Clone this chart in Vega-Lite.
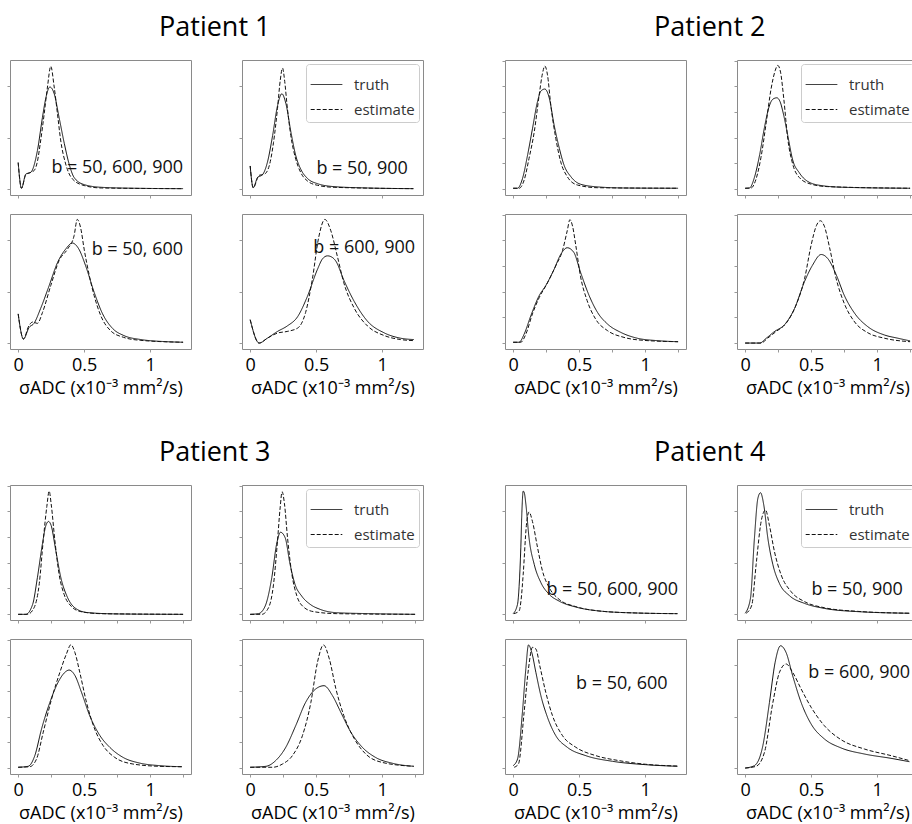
{
"$schema": "https://vega.github.io/schema/vega-lite/v6.json",
"padding": {"left": 6, "top": 13, "right": 0, "bottom": 0},
"background": "white",
"config": {
  "font": "Open Sans",
  "view": {"stroke": "#8a8a8a", "strokeWidth": 1},
  "title": {"fontSize": 27, "fontWeight": "normal", "font": "Open Sans", "color": "#000", "offset": 18, "anchor": "middle"},
  "axis": {"domain": false, "grid": false, "tickSize": 3, "tickColor": "#999", "labelFont": "Open Sans", "labelFontSize": 18, "labelColor": "#000", "labelPadding": 4, "titleFont": "Open Sans", "titleFontSize": 18, "titleFontWeight": "normal", "titleColor": "#000", "titlePadding": 5},
  "legend": {"orient": "top-right", "offset": 4, "title": null, "labelFont": "Open Sans", "labelFontSize": 15, "labelColor": "#333", "symbolType": "stroke", "symbolSize": 1000, "symbolStrokeWidth": 2, "symbolStrokeColor": "#111", "padding": 4, "rowPadding": -4, "labelOffset": 11, "strokeColor": "#ccc", "fillColor": "white", "cornerRadius": 3},
  "line": {"interpolate": "monotone", "strokeWidth": 1, "color": "#111"},
  "text": {"font": "Open Sans", "fontSize": 18, "align": "right", "baseline": "middle", "color": "#111"}
},
"datasets": {"c": [
{"k":"1a","s":"truth","x":0,"y":0.24},{"k":"1a","s":"truth","x":0.025,"y":0.05},{"k":"1a","s":"truth","x":0.058,"y":0.155},{"k":"1a","s":"truth","x":0.096,"y":0.168},{"k":"1a","s":"truth","x":0.146,"y":0.33},{"k":"1a","s":"truth","x":0.184,"y":0.575},{"k":"1a","s":"truth","x":0.21,"y":0.72},{"k":"1a","s":"truth","x":0.24,"y":0.8},{"k":"1a","s":"truth","x":0.273,"y":0.75},{"k":"1a","s":"truth","x":0.31,"y":0.575},{"k":"1a","s":"truth","x":0.35,"y":0.38},{"k":"1a","s":"truth","x":0.386,"y":0.23},{"k":"1a","s":"truth","x":0.424,"y":0.13},{"k":"1a","s":"truth","x":0.5,"y":0.077},{"k":"1a","s":"truth","x":0.63,"y":0.057},{"k":"1a","s":"truth","x":0.88,"y":0.05},{"k":"1a","s":"truth","x":1.25,"y":0.047},
{"k":"1a","s":"estimate","x":0,"y":0.24},{"k":"1a","s":"estimate","x":0.025,"y":0.05},{"k":"1a","s":"estimate","x":0.058,"y":0.15},{"k":"1a","s":"estimate","x":0.1,"y":0.17},{"k":"1a","s":"estimate","x":0.12,"y":0.18},{"k":"1a","s":"estimate","x":0.146,"y":0.25},{"k":"1a","s":"estimate","x":0.17,"y":0.4},{"k":"1a","s":"estimate","x":0.197,"y":0.6},{"k":"1a","s":"estimate","x":0.222,"y":0.8},{"k":"1a","s":"estimate","x":0.247,"y":0.953},{"k":"1a","s":"estimate","x":0.273,"y":0.8},{"k":"1a","s":"estimate","x":0.298,"y":0.6},{"k":"1a","s":"estimate","x":0.323,"y":0.4},{"k":"1a","s":"estimate","x":0.36,"y":0.23},{"k":"1a","s":"estimate","x":0.41,"y":0.12},{"k":"1a","s":"estimate","x":0.5,"y":0.07},{"k":"1a","s":"estimate","x":0.63,"y":0.052},{"k":"1a","s":"estimate","x":1.25,"y":0.047},
{"k":"1b","s":"truth","x":0,"y":0.215},{"k":"1b","s":"truth","x":0.023,"y":0.054},{"k":"1b","s":"truth","x":0.056,"y":0.13},{"k":"1b","s":"truth","x":0.093,"y":0.15},{"k":"1b","s":"truth","x":0.13,"y":0.24},{"k":"1b","s":"truth","x":0.17,"y":0.44},{"k":"1b","s":"truth","x":0.207,"y":0.66},{"k":"1b","s":"truth","x":0.24,"y":0.75},{"k":"1b","s":"truth","x":0.27,"y":0.68},{"k":"1b","s":"truth","x":0.31,"y":0.46},{"k":"1b","s":"truth","x":0.346,"y":0.29},{"k":"1b","s":"truth","x":0.384,"y":0.19},{"k":"1b","s":"truth","x":0.434,"y":0.123},{"k":"1b","s":"truth","x":0.51,"y":0.084},{"k":"1b","s":"truth","x":0.636,"y":0.062},{"k":"1b","s":"truth","x":0.89,"y":0.052},{"k":"1b","s":"truth","x":1.237,"y":0.047},
{"k":"1b","s":"estimate","x":0,"y":0.215},{"k":"1b","s":"estimate","x":0.023,"y":0.054},{"k":"1b","s":"estimate","x":0.068,"y":0.146},{"k":"1b","s":"estimate","x":0.106,"y":0.153},{"k":"1b","s":"estimate","x":0.144,"y":0.215},{"k":"1b","s":"estimate","x":0.177,"y":0.39},{"k":"1b","s":"estimate","x":0.207,"y":0.64},{"k":"1b","s":"estimate","x":0.228,"y":0.85},{"k":"1b","s":"estimate","x":0.245,"y":0.94},{"k":"1b","s":"estimate","x":0.262,"y":0.84},{"k":"1b","s":"estimate","x":0.278,"y":0.68},{"k":"1b","s":"estimate","x":0.308,"y":0.44},{"k":"1b","s":"estimate","x":0.346,"y":0.264},{"k":"1b","s":"estimate","x":0.384,"y":0.165},{"k":"1b","s":"estimate","x":0.434,"y":0.104},{"k":"1b","s":"estimate","x":0.51,"y":0.072},{"k":"1b","s":"estimate","x":0.636,"y":0.057},{"k":"1b","s":"estimate","x":1.237,"y":0.047},
{"k":"1c","s":"truth","x":0,"y":0.26},{"k":"1c","s":"truth","x":0.04,"y":0.074},{"k":"1c","s":"truth","x":0.083,"y":0.16},{"k":"1c","s":"truth","x":0.12,"y":0.19},{"k":"1c","s":"truth","x":0.17,"y":0.3},{"k":"1c","s":"truth","x":0.235,"y":0.47},{"k":"1c","s":"truth","x":0.298,"y":0.64},{"k":"1c","s":"truth","x":0.36,"y":0.74},{"k":"1c","s":"truth","x":0.41,"y":0.785},{"k":"1c","s":"truth","x":0.46,"y":0.74},{"k":"1c","s":"truth","x":0.51,"y":0.62},{"k":"1c","s":"truth","x":0.576,"y":0.42},{"k":"1c","s":"truth","x":0.64,"y":0.26},{"k":"1c","s":"truth","x":0.715,"y":0.153},{"k":"1c","s":"truth","x":0.8,"y":0.1},{"k":"1c","s":"truth","x":0.93,"y":0.07},{"k":"1c","s":"truth","x":1.13,"y":0.054},{"k":"1c","s":"truth","x":1.25,"y":0.05},
{"k":"1c","s":"estimate","x":0,"y":0.26},{"k":"1c","s":"estimate","x":0.04,"y":0.074},{"k":"1c","s":"estimate","x":0.08,"y":0.17},{"k":"1c","s":"estimate","x":0.11,"y":0.2},{"k":"1c","s":"estimate","x":0.146,"y":0.19},{"k":"1c","s":"estimate","x":0.184,"y":0.27},{"k":"1c","s":"estimate","x":0.247,"y":0.47},{"k":"1c","s":"estimate","x":0.31,"y":0.655},{"k":"1c","s":"estimate","x":0.374,"y":0.74},{"k":"1c","s":"estimate","x":0.424,"y":0.84},{"k":"1c","s":"estimate","x":0.448,"y":0.96},{"k":"1c","s":"estimate","x":0.475,"y":0.89},{"k":"1c","s":"estimate","x":0.5,"y":0.74},{"k":"1c","s":"estimate","x":0.54,"y":0.54},{"k":"1c","s":"estimate","x":0.576,"y":0.395},{"k":"1c","s":"estimate","x":0.626,"y":0.247},{"k":"1c","s":"estimate","x":0.7,"y":0.136},{"k":"1c","s":"estimate","x":0.8,"y":0.086},{"k":"1c","s":"estimate","x":0.93,"y":0.064},{"k":"1c","s":"estimate","x":1.25,"y":0.05},
{"k":"1d","s":"truth","x":0,"y":0.217},{"k":"1d","s":"truth","x":0.068,"y":0.044},{"k":"1d","s":"truth","x":0.13,"y":0.08},{"k":"1d","s":"truth","x":0.207,"y":0.13},{"k":"1d","s":"truth","x":0.28,"y":0.17},{"k":"1d","s":"truth","x":0.36,"y":0.24},{"k":"1d","s":"truth","x":0.434,"y":0.39},{"k":"1d","s":"truth","x":0.51,"y":0.59},{"k":"1d","s":"truth","x":0.55,"y":0.67},{"k":"1d","s":"truth","x":0.586,"y":0.69},{"k":"1d","s":"truth","x":0.62,"y":0.68},{"k":"1d","s":"truth","x":0.65,"y":0.65},{"k":"1d","s":"truth","x":0.71,"y":0.51},{"k":"1d","s":"truth","x":0.79,"y":0.35},{"k":"1d","s":"truth","x":0.89,"y":0.205},{"k":"1d","s":"truth","x":1.015,"y":0.12},{"k":"1d","s":"truth","x":1.14,"y":0.08},{"k":"1d","s":"truth","x":1.24,"y":0.07},
{"k":"1d","s":"estimate","x":0,"y":0.217},{"k":"1d","s":"estimate","x":0.068,"y":0.044},{"k":"1d","s":"estimate","x":0.13,"y":0.08},{"k":"1d","s":"estimate","x":0.207,"y":0.118},{"k":"1d","s":"estimate","x":0.28,"y":0.13},{"k":"1d","s":"estimate","x":0.36,"y":0.155},{"k":"1d","s":"estimate","x":0.42,"y":0.27},{"k":"1d","s":"estimate","x":0.47,"y":0.51},{"k":"1d","s":"estimate","x":0.52,"y":0.83},{"k":"1d","s":"estimate","x":0.566,"y":0.96},{"k":"1d","s":"estimate","x":0.61,"y":0.88},{"k":"1d","s":"estimate","x":0.66,"y":0.69},{"k":"1d","s":"estimate","x":0.71,"y":0.49},{"k":"1d","s":"estimate","x":0.79,"y":0.3},{"k":"1d","s":"estimate","x":0.89,"y":0.17},{"k":"1d","s":"estimate","x":1.015,"y":0.1},{"k":"1d","s":"estimate","x":1.14,"y":0.07},{"k":"1d","s":"estimate","x":1.24,"y":0.062},
{"k":"2a","s":"truth","x":0,"y":0.05},{"k":"2a","s":"truth","x":0.033,"y":0.05},{"k":"2a","s":"truth","x":0.07,"y":0.12},{"k":"2a","s":"truth","x":0.11,"y":0.3},{"k":"2a","s":"truth","x":0.146,"y":0.49},{"k":"2a","s":"truth","x":0.184,"y":0.69},{"k":"2a","s":"truth","x":0.21,"y":0.77},{"k":"2a","s":"truth","x":0.24,"y":0.785},{"k":"2a","s":"truth","x":0.273,"y":0.72},{"k":"2a","s":"truth","x":0.31,"y":0.52},{"k":"2a","s":"truth","x":0.35,"y":0.345},{"k":"2a","s":"truth","x":0.386,"y":0.22},{"k":"2a","s":"truth","x":0.437,"y":0.136},{"k":"2a","s":"truth","x":0.51,"y":0.08},{"k":"2a","s":"truth","x":0.64,"y":0.06},{"k":"2a","s":"truth","x":0.84,"y":0.052},{"k":"2a","s":"truth","x":1.25,"y":0.05},
{"k":"2a","s":"estimate","x":0,"y":0.05},{"k":"2a","s":"estimate","x":0.045,"y":0.05},{"k":"2a","s":"estimate","x":0.083,"y":0.11},{"k":"2a","s":"estimate","x":0.12,"y":0.27},{"k":"2a","s":"estimate","x":0.16,"y":0.47},{"k":"2a","s":"estimate","x":0.197,"y":0.74},{"k":"2a","s":"estimate","x":0.222,"y":0.9},{"k":"2a","s":"estimate","x":0.24,"y":0.955},{"k":"2a","s":"estimate","x":0.26,"y":0.89},{"k":"2a","s":"estimate","x":0.285,"y":0.667},{"k":"2a","s":"estimate","x":0.323,"y":0.42},{"k":"2a","s":"estimate","x":0.36,"y":0.247},{"k":"2a","s":"estimate","x":0.41,"y":0.136},{"k":"2a","s":"estimate","x":0.487,"y":0.074},{"k":"2a","s":"estimate","x":0.64,"y":0.054},{"k":"2a","s":"estimate","x":1.25,"y":0.05},
{"k":"2b","s":"truth","x":0,"y":0.05},{"k":"2b","s":"truth","x":0.033,"y":0.052},{"k":"2b","s":"truth","x":0.07,"y":0.13},{"k":"2b","s":"truth","x":0.11,"y":0.3},{"k":"2b","s":"truth","x":0.146,"y":0.5},{"k":"2b","s":"truth","x":0.18,"y":0.65},{"k":"2b","s":"truth","x":0.21,"y":0.71},{"k":"2b","s":"truth","x":0.24,"y":0.72},{"k":"2b","s":"truth","x":0.265,"y":0.69},{"k":"2b","s":"truth","x":0.29,"y":0.6},{"k":"2b","s":"truth","x":0.323,"y":0.44},{"k":"2b","s":"truth","x":0.36,"y":0.26},{"k":"2b","s":"truth","x":0.41,"y":0.165},{"k":"2b","s":"truth","x":0.475,"y":0.1},{"k":"2b","s":"truth","x":0.576,"y":0.07},{"k":"2b","s":"truth","x":0.75,"y":0.057},{"k":"2b","s":"truth","x":1.25,"y":0.05},
{"k":"2b","s":"estimate","x":0,"y":0.05},{"k":"2b","s":"estimate","x":0.045,"y":0.052},{"k":"2b","s":"estimate","x":0.083,"y":0.12},{"k":"2b","s":"estimate","x":0.12,"y":0.28},{"k":"2b","s":"estimate","x":0.16,"y":0.54},{"k":"2b","s":"estimate","x":0.197,"y":0.79},{"k":"2b","s":"estimate","x":0.227,"y":0.92},{"k":"2b","s":"estimate","x":0.247,"y":0.96},{"k":"2b","s":"estimate","x":0.268,"y":0.91},{"k":"2b","s":"estimate","x":0.293,"y":0.71},{"k":"2b","s":"estimate","x":0.323,"y":0.415},{"k":"2b","s":"estimate","x":0.36,"y":0.23},{"k":"2b","s":"estimate","x":0.41,"y":0.13},{"k":"2b","s":"estimate","x":0.5,"y":0.08},{"k":"2b","s":"estimate","x":0.626,"y":0.062},{"k":"2b","s":"estimate","x":1.25,"y":0.05},
{"k":"2c","s":"truth","x":0,"y":0.05},{"k":"2c","s":"truth","x":0.045,"y":0.05},{"k":"2c","s":"truth","x":0.083,"y":0.11},{"k":"2c","s":"truth","x":0.134,"y":0.247},{"k":"2c","s":"truth","x":0.197,"y":0.395},{"k":"2c","s":"truth","x":0.247,"y":0.47},{"k":"2c","s":"truth","x":0.31,"y":0.59},{"k":"2c","s":"truth","x":0.36,"y":0.7},{"k":"2c","s":"truth","x":0.41,"y":0.75},{"k":"2c","s":"truth","x":0.46,"y":0.715},{"k":"2c","s":"truth","x":0.51,"y":0.57},{"k":"2c","s":"truth","x":0.576,"y":0.395},{"k":"2c","s":"truth","x":0.64,"y":0.27},{"k":"2c","s":"truth","x":0.715,"y":0.185},{"k":"2c","s":"truth","x":0.816,"y":0.123},{"k":"2c","s":"truth","x":0.94,"y":0.08},{"k":"2c","s":"truth","x":1.09,"y":0.062},{"k":"2c","s":"truth","x":1.25,"y":0.054},
{"k":"2c","s":"estimate","x":0,"y":0.05},{"k":"2c","s":"estimate","x":0.058,"y":0.05},{"k":"2c","s":"estimate","x":0.096,"y":0.11},{"k":"2c","s":"estimate","x":0.146,"y":0.26},{"k":"2c","s":"estimate","x":0.197,"y":0.38},{"k":"2c","s":"estimate","x":0.26,"y":0.49},{"k":"2c","s":"estimate","x":0.323,"y":0.617},{"k":"2c","s":"estimate","x":0.374,"y":0.73},{"k":"2c","s":"estimate","x":0.41,"y":0.877},{"k":"2c","s":"estimate","x":0.43,"y":0.958},{"k":"2c","s":"estimate","x":0.45,"y":0.91},{"k":"2c","s":"estimate","x":0.475,"y":0.765},{"k":"2c","s":"estimate","x":0.51,"y":0.54},{"k":"2c","s":"estimate","x":0.56,"y":0.36},{"k":"2c","s":"estimate","x":0.626,"y":0.22},{"k":"2c","s":"estimate","x":0.715,"y":0.136},{"k":"2c","s":"estimate","x":0.84,"y":0.086},{"k":"2c","s":"estimate","x":0.99,"y":0.064},{"k":"2c","s":"estimate","x":1.25,"y":0.054},
{"k":"2d","s":"truth","x":0,"y":0.044},{"k":"2d","s":"truth","x":0.11,"y":0.044},{"k":"2d","s":"truth","x":0.16,"y":0.08},{"k":"2d","s":"truth","x":0.22,"y":0.128},{"k":"2d","s":"truth","x":0.298,"y":0.18},{"k":"2d","s":"truth","x":0.374,"y":0.3},{"k":"2d","s":"truth","x":0.45,"y":0.5},{"k":"2d","s":"truth","x":0.51,"y":0.62},{"k":"2d","s":"truth","x":0.576,"y":0.7},{"k":"2d","s":"truth","x":0.626,"y":0.67},{"k":"2d","s":"truth","x":0.69,"y":0.55},{"k":"2d","s":"truth","x":0.75,"y":0.4},{"k":"2d","s":"truth","x":0.83,"y":0.264},{"k":"2d","s":"truth","x":0.93,"y":0.165},{"k":"2d","s":"truth","x":1.055,"y":0.104},{"k":"2d","s":"truth","x":1.157,"y":0.08},{"k":"2d","s":"truth","x":1.25,"y":0.06},
{"k":"2d","s":"estimate","x":0,"y":0.044},{"k":"2d","s":"estimate","x":0.12,"y":0.044},{"k":"2d","s":"estimate","x":0.17,"y":0.08},{"k":"2d","s":"estimate","x":0.235,"y":0.13},{"k":"2d","s":"estimate","x":0.31,"y":0.19},{"k":"2d","s":"estimate","x":0.386,"y":0.326},{"k":"2d","s":"estimate","x":0.45,"y":0.52},{"k":"2d","s":"estimate","x":0.5,"y":0.77},{"k":"2d","s":"estimate","x":0.54,"y":0.914},{"k":"2d","s":"estimate","x":0.57,"y":0.95},{"k":"2d","s":"estimate","x":0.6,"y":0.91},{"k":"2d","s":"estimate","x":0.64,"y":0.75},{"k":"2d","s":"estimate","x":0.69,"y":0.52},{"k":"2d","s":"estimate","x":0.75,"y":0.34},{"k":"2d","s":"estimate","x":0.83,"y":0.2},{"k":"2d","s":"estimate","x":0.93,"y":0.12},{"k":"2d","s":"estimate","x":1.055,"y":0.08},{"k":"2d","s":"estimate","x":1.25,"y":0.054},
{"k":"3a","s":"truth","x":0,"y":0.042},{"k":"3a","s":"truth","x":0.058,"y":0.042},{"k":"3a","s":"truth","x":0.11,"y":0.117},{"k":"3a","s":"truth","x":0.146,"y":0.316},{"k":"3a","s":"truth","x":0.184,"y":0.565},{"k":"3a","s":"truth","x":0.21,"y":0.7},{"k":"3a","s":"truth","x":0.23,"y":0.73},{"k":"3a","s":"truth","x":0.25,"y":0.7},{"k":"3a","s":"truth","x":0.285,"y":0.515},{"k":"3a","s":"truth","x":0.323,"y":0.316},{"k":"3a","s":"truth","x":0.374,"y":0.167},{"k":"3a","s":"truth","x":0.437,"y":0.085},{"k":"3a","s":"truth","x":0.525,"y":0.055},{"k":"3a","s":"truth","x":0.75,"y":0.045},{"k":"3a","s":"truth","x":1.25,"y":0.042},
{"k":"3a","s":"estimate","x":0,"y":0.042},{"k":"3a","s":"estimate","x":0.07,"y":0.042},{"k":"3a","s":"estimate","x":0.12,"y":0.09},{"k":"3a","s":"estimate","x":0.16,"y":0.27},{"k":"3a","s":"estimate","x":0.19,"y":0.59},{"k":"3a","s":"estimate","x":0.217,"y":0.84},{"k":"3a","s":"estimate","x":0.235,"y":0.955},{"k":"3a","s":"estimate","x":0.25,"y":0.86},{"k":"3a","s":"estimate","x":0.278,"y":0.59},{"k":"3a","s":"estimate","x":0.31,"y":0.34},{"k":"3a","s":"estimate","x":0.348,"y":0.19},{"k":"3a","s":"estimate","x":0.4,"y":0.104},{"k":"3a","s":"estimate","x":0.475,"y":0.062},{"k":"3a","s":"estimate","x":0.626,"y":0.047},{"k":"3a","s":"estimate","x":1.25,"y":0.042},
{"k":"3b","s":"truth","x":0,"y":0.042},{"k":"3b","s":"truth","x":0.063,"y":0.047},{"k":"3b","s":"truth","x":0.114,"y":0.104},{"k":"3b","s":"truth","x":0.164,"y":0.315},{"k":"3b","s":"truth","x":0.2,"y":0.56},{"k":"3b","s":"truth","x":0.23,"y":0.65},{"k":"3b","s":"truth","x":0.265,"y":0.61},{"k":"3b","s":"truth","x":0.303,"y":0.41},{"k":"3b","s":"truth","x":0.34,"y":0.264},{"k":"3b","s":"truth","x":0.39,"y":0.178},{"k":"3b","s":"truth","x":0.455,"y":0.116},{"k":"3b","s":"truth","x":0.53,"y":0.079},{"k":"3b","s":"truth","x":0.657,"y":0.054},{"k":"3b","s":"truth","x":0.91,"y":0.047},{"k":"3b","s":"truth","x":1.25,"y":0.042},
{"k":"3b","s":"estimate","x":0,"y":0.042},{"k":"3b","s":"estimate","x":0.088,"y":0.042},{"k":"3b","s":"estimate","x":0.139,"y":0.091},{"k":"3b","s":"estimate","x":0.177,"y":0.264},{"k":"3b","s":"estimate","x":0.207,"y":0.585},{"k":"3b","s":"estimate","x":0.227,"y":0.83},{"k":"3b","s":"estimate","x":0.242,"y":0.95},{"k":"3b","s":"estimate","x":0.26,"y":0.86},{"k":"3b","s":"estimate","x":0.283,"y":0.61},{"k":"3b","s":"estimate","x":0.316,"y":0.34},{"k":"3b","s":"estimate","x":0.354,"y":0.178},{"k":"3b","s":"estimate","x":0.404,"y":0.097},{"k":"3b","s":"estimate","x":0.48,"y":0.062},{"k":"3b","s":"estimate","x":0.657,"y":0.047},{"k":"3b","s":"estimate","x":1.25,"y":0.042},
{"k":"3c","s":"truth","x":0,"y":0.05},{"k":"3c","s":"truth","x":0.076,"y":0.057},{"k":"3c","s":"truth","x":0.126,"y":0.136},{"k":"3c","s":"truth","x":0.177,"y":0.333},{"k":"3c","s":"truth","x":0.24,"y":0.53},{"k":"3c","s":"truth","x":0.303,"y":0.68},{"k":"3c","s":"truth","x":0.354,"y":0.753},{"k":"3c","s":"truth","x":0.386,"y":0.77},{"k":"3c","s":"truth","x":0.43,"y":0.73},{"k":"3c","s":"truth","x":0.48,"y":0.605},{"k":"3c","s":"truth","x":0.543,"y":0.43},{"k":"3c","s":"truth","x":0.62,"y":0.284},{"k":"3c","s":"truth","x":0.694,"y":0.198},{"k":"3c","s":"truth","x":0.795,"y":0.123},{"k":"3c","s":"truth","x":0.92,"y":0.081},{"k":"3c","s":"truth","x":1.07,"y":0.062},{"k":"3c","s":"truth","x":1.24,"y":0.054},
{"k":"3c","s":"estimate","x":0,"y":0.05},{"k":"3c","s":"estimate","x":0.088,"y":0.054},{"k":"3c","s":"estimate","x":0.139,"y":0.111},{"k":"3c","s":"estimate","x":0.19,"y":0.31},{"k":"3c","s":"estimate","x":0.253,"y":0.555},{"k":"3c","s":"estimate","x":0.316,"y":0.753},{"k":"3c","s":"estimate","x":0.366,"y":0.89},{"k":"3c","s":"estimate","x":0.4,"y":0.958},{"k":"3c","s":"estimate","x":0.43,"y":0.9},{"k":"3c","s":"estimate","x":0.467,"y":0.753},{"k":"3c","s":"estimate","x":0.518,"y":0.53},{"k":"3c","s":"estimate","x":0.58,"y":0.333},{"k":"3c","s":"estimate","x":0.644,"y":0.21},{"k":"3c","s":"estimate","x":0.732,"y":0.123},{"k":"3c","s":"estimate","x":0.87,"y":0.074},{"k":"3c","s":"estimate","x":1.07,"y":0.057},{"k":"3c","s":"estimate","x":1.24,"y":0.054},
{"k":"3d","s":"truth","x":0,"y":0.05},{"k":"3d","s":"truth","x":0.12,"y":0.057},{"k":"3d","s":"truth","x":0.194,"y":0.1},{"k":"3d","s":"truth","x":0.27,"y":0.198},{"k":"3d","s":"truth","x":0.346,"y":0.36},{"k":"3d","s":"truth","x":0.42,"y":0.53},{"k":"3d","s":"truth","x":0.497,"y":0.63},{"k":"3d","s":"truth","x":0.56,"y":0.654},{"k":"3d","s":"truth","x":0.624,"y":0.58},{"k":"3d","s":"truth","x":0.687,"y":0.457},{"k":"3d","s":"truth","x":0.763,"y":0.31},{"k":"3d","s":"truth","x":0.85,"y":0.198},{"k":"3d","s":"truth","x":0.95,"y":0.123},{"k":"3d","s":"truth","x":1.08,"y":0.079},{"k":"3d","s":"truth","x":1.24,"y":0.057},
{"k":"3d","s":"estimate","x":0,"y":0.05},{"k":"3d","s":"estimate","x":0.17,"y":0.05},{"k":"3d","s":"estimate","x":0.245,"y":0.074},{"k":"3d","s":"estimate","x":0.32,"y":0.136},{"k":"3d","s":"estimate","x":0.396,"y":0.284},{"k":"3d","s":"estimate","x":0.46,"y":0.53},{"k":"3d","s":"estimate","x":0.51,"y":0.827},{"k":"3d","s":"estimate","x":0.556,"y":0.956},{"k":"3d","s":"estimate","x":0.6,"y":0.852},{"k":"3d","s":"estimate","x":0.65,"y":0.63},{"k":"3d","s":"estimate","x":0.71,"y":0.432},{"k":"3d","s":"estimate","x":0.79,"y":0.26},{"k":"3d","s":"estimate","x":0.876,"y":0.148},{"k":"3d","s":"estimate","x":1.0,"y":0.086},{"k":"3d","s":"estimate","x":1.24,"y":0.057},
{"k":"4a","s":"truth","x":0,"y":0.047},{"k":"4a","s":"truth","x":0.033,"y":0.117},{"k":"4a","s":"truth","x":0.045,"y":0.25},{"k":"4a","s":"truth","x":0.058,"y":0.54},{"k":"4a","s":"truth","x":0.066,"y":0.8},{"k":"4a","s":"truth","x":0.076,"y":0.955},{"k":"4a","s":"truth","x":0.085,"y":0.94},{"k":"4a","s":"truth","x":0.096,"y":0.86},{"k":"4a","s":"truth","x":0.12,"y":0.61},{"k":"4a","s":"truth","x":0.16,"y":0.41},{"k":"4a","s":"truth","x":0.21,"y":0.277},{"k":"4a","s":"truth","x":0.273,"y":0.19},{"k":"4a","s":"truth","x":0.348,"y":0.14},{"k":"4a","s":"truth","x":0.475,"y":0.096},{"k":"4a","s":"truth","x":0.65,"y":0.067},{"k":"4a","s":"truth","x":0.93,"y":0.052},{"k":"4a","s":"truth","x":1.245,"y":0.047},
{"k":"4a","s":"estimate","x":0.005,"y":0.047},{"k":"4a","s":"estimate","x":0.045,"y":0.067},{"k":"4a","s":"estimate","x":0.06,"y":0.15},{"k":"4a","s":"estimate","x":0.076,"y":0.34},{"k":"4a","s":"estimate","x":0.1,"y":0.7},{"k":"4a","s":"estimate","x":0.12,"y":0.8},{"k":"4a","s":"estimate","x":0.146,"y":0.73},{"k":"4a","s":"estimate","x":0.184,"y":0.54},{"k":"4a","s":"estimate","x":0.222,"y":0.363},{"k":"4a","s":"estimate","x":0.273,"y":0.24},{"k":"4a","s":"estimate","x":0.348,"y":0.153},{"k":"4a","s":"estimate","x":0.475,"y":0.099},{"k":"4a","s":"estimate","x":0.65,"y":0.067},{"k":"4a","s":"estimate","x":0.93,"y":0.052},{"k":"4a","s":"estimate","x":1.245,"y":0.047},
{"k":"4b","s":"truth","x":0,"y":0.05},{"k":"4b","s":"truth","x":0.04,"y":0.16},{"k":"4b","s":"truth","x":0.07,"y":0.605},{"k":"4b","s":"truth","x":0.096,"y":0.9},{"k":"4b","s":"truth","x":0.116,"y":0.943},{"k":"4b","s":"truth","x":0.141,"y":0.852},{"k":"4b","s":"truth","x":0.172,"y":0.605},{"k":"4b","s":"truth","x":0.21,"y":0.41},{"k":"4b","s":"truth","x":0.26,"y":0.27},{"k":"4b","s":"truth","x":0.336,"y":0.18},{"k":"4b","s":"truth","x":0.45,"y":0.123},{"k":"4b","s":"truth","x":0.6,"y":0.086},{"k":"4b","s":"truth","x":0.853,"y":0.062},{"k":"4b","s":"truth","x":1.245,"y":0.05},
{"k":"4b","s":"estimate","x":0.008,"y":0.05},{"k":"4b","s":"estimate","x":0.05,"y":0.11},{"k":"4b","s":"estimate","x":0.083,"y":0.41},{"k":"4b","s":"estimate","x":0.121,"y":0.73},{"k":"4b","s":"estimate","x":0.154,"y":0.815},{"k":"4b","s":"estimate","x":0.184,"y":0.7},{"k":"4b","s":"estimate","x":0.222,"y":0.506},{"k":"4b","s":"estimate","x":0.273,"y":0.333},{"k":"4b","s":"estimate","x":0.348,"y":0.21},{"k":"4b","s":"estimate","x":0.45,"y":0.136},{"k":"4b","s":"estimate","x":0.6,"y":0.091},{"k":"4b","s":"estimate","x":0.853,"y":0.064},{"k":"4b","s":"estimate","x":1.245,"y":0.05},
{"k":"4c","s":"truth","x":0,"y":0.062},{"k":"4c","s":"truth","x":0.033,"y":0.111},{"k":"4c","s":"truth","x":0.07,"y":0.457},{"k":"4c","s":"truth","x":0.096,"y":0.78},{"k":"4c","s":"truth","x":0.116,"y":0.956},{"k":"4c","s":"truth","x":0.141,"y":0.9},{"k":"4c","s":"truth","x":0.172,"y":0.753},{"k":"4c","s":"truth","x":0.21,"y":0.58},{"k":"4c","s":"truth","x":0.26,"y":0.42},{"k":"4c","s":"truth","x":0.323,"y":0.284},{"k":"4c","s":"truth","x":0.41,"y":0.198},{"k":"4c","s":"truth","x":0.55,"y":0.136},{"k":"4c","s":"truth","x":0.753,"y":0.094},{"k":"4c","s":"truth","x":1.005,"y":0.069},{"k":"4c","s":"truth","x":1.245,"y":0.057},
{"k":"4c","s":"estimate","x":0.008,"y":0.05},{"k":"4c","s":"estimate","x":0.04,"y":0.074},{"k":"4c","s":"estimate","x":0.083,"y":0.457},{"k":"4c","s":"estimate","x":0.116,"y":0.78},{"k":"4c","s":"estimate","x":0.146,"y":0.938},{"k":"4c","s":"estimate","x":0.172,"y":0.926},{"k":"4c","s":"estimate","x":0.202,"y":0.8},{"k":"4c","s":"estimate","x":0.247,"y":0.605},{"k":"4c","s":"estimate","x":0.298,"y":0.432},{"k":"4c","s":"estimate","x":0.374,"y":0.284},{"k":"4c","s":"estimate","x":0.475,"y":0.198},{"k":"4c","s":"estimate","x":0.626,"y":0.136},{"k":"4c","s":"estimate","x":0.803,"y":0.099},{"k":"4c","s":"estimate","x":1.005,"y":0.072},{"k":"4c","s":"estimate","x":1.245,"y":0.059},
{"k":"4d","s":"truth","x":0,"y":0.044},{"k":"4d","s":"truth","x":0.07,"y":0.062},{"k":"4d","s":"truth","x":0.134,"y":0.21},{"k":"4d","s":"truth","x":0.184,"y":0.53},{"k":"4d","s":"truth","x":0.227,"y":0.827},{"k":"4d","s":"truth","x":0.268,"y":0.95},{"k":"4d","s":"truth","x":0.31,"y":0.9},{"k":"4d","s":"truth","x":0.36,"y":0.728},{"k":"4d","s":"truth","x":0.424,"y":0.53},{"k":"4d","s":"truth","x":0.5,"y":0.37},{"k":"4d","s":"truth","x":0.6,"y":0.26},{"k":"4d","s":"truth","x":0.727,"y":0.193},{"k":"4d","s":"truth","x":0.904,"y":0.148},{"k":"4d","s":"truth","x":1.106,"y":0.116},{"k":"4d","s":"truth","x":1.245,"y":0.091},
{"k":"4d","s":"estimate","x":0,"y":0.044},{"k":"4d","s":"estimate","x":0.083,"y":0.057},{"k":"4d","s":"estimate","x":0.146,"y":0.16},{"k":"4d","s":"estimate","x":0.21,"y":0.53},{"k":"4d","s":"estimate","x":0.26,"y":0.753},{"k":"4d","s":"estimate","x":0.31,"y":0.815},{"k":"4d","s":"estimate","x":0.36,"y":0.753},{"k":"4d","s":"estimate","x":0.424,"y":0.63},{"k":"4d","s":"estimate","x":0.5,"y":0.494},{"k":"4d","s":"estimate","x":0.6,"y":0.358},{"k":"4d","s":"estimate","x":0.727,"y":0.254},{"k":"4d","s":"estimate","x":0.904,"y":0.185},{"k":"4d","s":"estimate","x":1.106,"y":0.136},{"k":"4d","s":"estimate","x":1.245,"y":0.099}
]},
"spacing": 40,
"resolve": {"scale": {"strokeDash": "independent"}, "legend": {"strokeDash": "independent"}},
"vconcat": [
{"hconcat": [
 {"title": "Patient 1", "spacing": 14, "resolve": {"scale": {"strokeDash": "independent"}, "legend": {"strokeDash": "independent"}}, "vconcat": [
  {"hconcat": [
   {"width": 181, "height": 135, "layer": [
    {"data": {"name": "c"}, "transform": [{"filter": "datum.k == '1a'"}], "mark": "line", "encoding": {
     "x": {"field": "x", "type": "quantitative", "scale": {"domain": [-0.062, 1.31], "nice": false, "zero": false}, "axis": {"values": [0, 0.25, 0.5, 0.75, 1, 1.25], "labels": false, "title": null}},
     "y": {"field": "y", "type": "quantitative", "scale": {"domain": [0, 1], "nice": false, "zero": false}, "axis": {"values": [0.045, 0.235, 0.425, 0.615, 0.805, 0.995], "labels": false, "title": null}},
     "strokeDash": {"field": "s", "type": "nominal", "scale": {"domain": ["truth", "estimate"], "range": [[1, 0], [4, 2]]}, "legend": null}}},
    {"data": {"values": [{}]}, "mark": "text", "encoding": {"x": {"datum": 1.25}, "y": {"datum": 0.2}, "text": {"value": "b = 50, 600, 900"}}}
   ]},
   {"width": 181, "height": 135, "layer": [
    {"data": {"name": "c"}, "transform": [{"filter": "datum.k == '1b'"}], "mark": "line", "encoding": {
     "x": {"field": "x", "type": "quantitative", "scale": {"domain": [-0.062, 1.31], "nice": false, "zero": false}, "axis": {"values": [0, 0.25, 0.5, 0.75, 1, 1.25], "labels": false, "title": null}},
     "y": {"field": "y", "type": "quantitative", "scale": {"domain": [0, 1], "nice": false, "zero": false}, "axis": {"values": [0.045, 0.235, 0.425, 0.615, 0.805, 0.995], "labels": false, "title": null}},
     "strokeDash": {"field": "s", "type": "nominal", "scale": {"domain": ["truth", "estimate"], "range": [[1, 0], [4, 2]]}, "legend": {}}}},
    {"data": {"values": [{}]}, "mark": "text", "encoding": {"x": {"datum": 1.195}, "y": {"datum": 0.19}, "text": {"value": "b = 50, 900"}}}
   ]}
  ], "spacing": 46, "resolve": {"scale": {"strokeDash": "independent"}, "legend": {"strokeDash": "independent"}}},
  {"hconcat": [
   {"width": 181, "height": 135, "layer": [
    {"data": {"name": "c"}, "transform": [{"filter": "datum.k == '1c'"}], "mark": "line", "encoding": {
     "x": {"field": "x", "type": "quantitative", "scale": {"domain": [-0.062, 1.31], "nice": false, "zero": false}, "axis": {"values": [0, 0.25, 0.5, 0.75, 1, 1.25], "labelExpr": "datum.value == 0 ? '0' : datum.value == 0.5 ? '0.5' : datum.value == 1 ? '1' : ''", "title": "σADC (x10⁻³ mm²/s)"}},
     "y": {"field": "y", "type": "quantitative", "scale": {"domain": [0, 1], "nice": false, "zero": false}, "axis": {"values": [0.045, 0.235, 0.425, 0.615, 0.805, 0.995], "labels": false, "title": null}},
     "strokeDash": {"field": "s", "type": "nominal", "scale": {"domain": ["truth", "estimate"], "range": [[1, 0], [4, 2]]}, "legend": null}}},
    {"data": {"values": [{}]}, "mark": "text", "encoding": {"x": {"datum": 1.25}, "y": {"datum": 0.73}, "text": {"value": "b = 50, 600"}}}
   ]},
   {"width": 181, "height": 135, "layer": [
    {"data": {"name": "c"}, "transform": [{"filter": "datum.k == '1d'"}], "mark": "line", "encoding": {
     "x": {"field": "x", "type": "quantitative", "scale": {"domain": [-0.062, 1.31], "nice": false, "zero": false}, "axis": {"values": [0, 0.25, 0.5, 0.75, 1, 1.25], "labelExpr": "datum.value == 0 ? '0' : datum.value == 0.5 ? '0.5' : datum.value == 1 ? '1' : ''", "title": "σADC (x10⁻³ mm²/s)"}},
     "y": {"field": "y", "type": "quantitative", "scale": {"domain": [0, 1], "nice": false, "zero": false}, "axis": {"values": [0.045, 0.235, 0.425, 0.615, 0.805, 0.995], "labels": false, "title": null}},
     "strokeDash": {"field": "s", "type": "nominal", "scale": {"domain": ["truth", "estimate"], "range": [[1, 0], [4, 2]]}, "legend": null}}},
    {"data": {"values": [{}]}, "mark": "text", "encoding": {"x": {"datum": 1.25}, "y": {"datum": 0.75}, "text": {"value": "b = 600, 900"}}}
   ]}
  ], "spacing": 46, "resolve": {"scale": {"strokeDash": "independent"}, "legend": {"strokeDash": "independent"}}}
 ]},
 {"title": "Patient 2", "spacing": 14, "resolve": {"scale": {"strokeDash": "independent"}, "legend": {"strokeDash": "independent"}}, "vconcat": [
  {"hconcat": [
   {"width": 181, "height": 135, "layer": [
    {"data": {"name": "c"}, "transform": [{"filter": "datum.k == '2a'"}], "mark": "line", "encoding": {
     "x": {"field": "x", "type": "quantitative", "scale": {"domain": [-0.062, 1.31], "nice": false, "zero": false}, "axis": {"values": [0, 0.25, 0.5, 0.75, 1, 1.25], "labels": false, "title": null}},
     "y": {"field": "y", "type": "quantitative", "scale": {"domain": [0, 1], "nice": false, "zero": false}, "axis": {"values": [0.045, 0.235, 0.425, 0.615, 0.805, 0.995], "labels": false, "title": null}},
     "strokeDash": {"field": "s", "type": "nominal", "scale": {"domain": ["truth", "estimate"], "range": [[1, 0], [4, 2]]}, "legend": null}}}
   ]},
   {"width": 181, "height": 135, "layer": [
    {"data": {"name": "c"}, "transform": [{"filter": "datum.k == '2b'"}], "mark": "line", "encoding": {
     "x": {"field": "x", "type": "quantitative", "scale": {"domain": [-0.062, 1.31], "nice": false, "zero": false}, "axis": {"values": [0, 0.25, 0.5, 0.75, 1, 1.25], "labels": false, "title": null}},
     "y": {"field": "y", "type": "quantitative", "scale": {"domain": [0, 1], "nice": false, "zero": false}, "axis": {"values": [0.045, 0.235, 0.425, 0.615, 0.805, 0.995], "labels": false, "title": null}},
     "strokeDash": {"field": "s", "type": "nominal", "scale": {"domain": ["truth", "estimate"], "range": [[1, 0], [4, 2]]}, "legend": {}}}}
   ]}
  ], "spacing": 46, "resolve": {"scale": {"strokeDash": "independent"}, "legend": {"strokeDash": "independent"}}},
  {"hconcat": [
   {"width": 181, "height": 135, "layer": [
    {"data": {"name": "c"}, "transform": [{"filter": "datum.k == '2c'"}], "mark": "line", "encoding": {
     "x": {"field": "x", "type": "quantitative", "scale": {"domain": [-0.062, 1.31], "nice": false, "zero": false}, "axis": {"values": [0, 0.25, 0.5, 0.75, 1, 1.25], "labelExpr": "datum.value == 0 ? '0' : datum.value == 0.5 ? '0.5' : datum.value == 1 ? '1' : ''", "title": "σADC (x10⁻³ mm²/s)"}},
     "y": {"field": "y", "type": "quantitative", "scale": {"domain": [0, 1], "nice": false, "zero": false}, "axis": {"values": [0.045, 0.235, 0.425, 0.615, 0.805, 0.995], "labels": false, "title": null}},
     "strokeDash": {"field": "s", "type": "nominal", "scale": {"domain": ["truth", "estimate"], "range": [[1, 0], [4, 2]]}, "legend": null}}}
   ]},
   {"width": 181, "height": 135, "layer": [
    {"data": {"name": "c"}, "transform": [{"filter": "datum.k == '2d'"}], "mark": "line", "encoding": {
     "x": {"field": "x", "type": "quantitative", "scale": {"domain": [-0.062, 1.31], "nice": false, "zero": false}, "axis": {"values": [0, 0.25, 0.5, 0.75, 1, 1.25], "labelExpr": "datum.value == 0 ? '0' : datum.value == 0.5 ? '0.5' : datum.value == 1 ? '1' : ''", "title": "σADC (x10⁻³ mm²/s)"}},
     "y": {"field": "y", "type": "quantitative", "scale": {"domain": [0, 1], "nice": false, "zero": false}, "axis": {"values": [0.045, 0.235, 0.425, 0.615, 0.805, 0.995], "labels": false, "title": null}},
     "strokeDash": {"field": "s", "type": "nominal", "scale": {"domain": ["truth", "estimate"], "range": [[1, 0], [4, 2]]}, "legend": null}}}
   ]}
  ], "spacing": 46, "resolve": {"scale": {"strokeDash": "independent"}, "legend": {"strokeDash": "independent"}}}
 ]}
], "spacing": 77, "resolve": {"scale": {"strokeDash": "independent"}, "legend": {"strokeDash": "independent"}}},
{"hconcat": [
 {"title": "Patient 3", "spacing": 14, "resolve": {"scale": {"strokeDash": "independent"}, "legend": {"strokeDash": "independent"}}, "vconcat": [
  {"hconcat": [
   {"width": 181, "height": 135, "layer": [
    {"data": {"name": "c"}, "transform": [{"filter": "datum.k == '3a'"}], "mark": "line", "encoding": {
     "x": {"field": "x", "type": "quantitative", "scale": {"domain": [-0.062, 1.31], "nice": false, "zero": false}, "axis": {"values": [0, 0.25, 0.5, 0.75, 1, 1.25], "labels": false, "title": null}},
     "y": {"field": "y", "type": "quantitative", "scale": {"domain": [0, 1], "nice": false, "zero": false}, "axis": {"values": [0.045, 0.235, 0.425, 0.615, 0.805, 0.995], "labels": false, "title": null}},
     "strokeDash": {"field": "s", "type": "nominal", "scale": {"domain": ["truth", "estimate"], "range": [[1, 0], [4, 2]]}, "legend": null}}}
   ]},
   {"width": 181, "height": 135, "layer": [
    {"data": {"name": "c"}, "transform": [{"filter": "datum.k == '3b'"}], "mark": "line", "encoding": {
     "x": {"field": "x", "type": "quantitative", "scale": {"domain": [-0.062, 1.31], "nice": false, "zero": false}, "axis": {"values": [0, 0.25, 0.5, 0.75, 1, 1.25], "labels": false, "title": null}},
     "y": {"field": "y", "type": "quantitative", "scale": {"domain": [0, 1], "nice": false, "zero": false}, "axis": {"values": [0.045, 0.235, 0.425, 0.615, 0.805, 0.995], "labels": false, "title": null}},
     "strokeDash": {"field": "s", "type": "nominal", "scale": {"domain": ["truth", "estimate"], "range": [[1, 0], [4, 2]]}, "legend": {}}}}
   ]}
  ], "spacing": 46, "resolve": {"scale": {"strokeDash": "independent"}, "legend": {"strokeDash": "independent"}}},
  {"hconcat": [
   {"width": 181, "height": 135, "layer": [
    {"data": {"name": "c"}, "transform": [{"filter": "datum.k == '3c'"}], "mark": "line", "encoding": {
     "x": {"field": "x", "type": "quantitative", "scale": {"domain": [-0.062, 1.31], "nice": false, "zero": false}, "axis": {"values": [0, 0.25, 0.5, 0.75, 1, 1.25], "labelExpr": "datum.value == 0 ? '0' : datum.value == 0.5 ? '0.5' : datum.value == 1 ? '1' : ''", "title": "σADC (x10⁻³ mm²/s)"}},
     "y": {"field": "y", "type": "quantitative", "scale": {"domain": [0, 1], "nice": false, "zero": false}, "axis": {"values": [0.045, 0.235, 0.425, 0.615, 0.805, 0.995], "labels": false, "title": null}},
     "strokeDash": {"field": "s", "type": "nominal", "scale": {"domain": ["truth", "estimate"], "range": [[1, 0], [4, 2]]}, "legend": null}}}
   ]},
   {"width": 181, "height": 135, "layer": [
    {"data": {"name": "c"}, "transform": [{"filter": "datum.k == '3d'"}], "mark": "line", "encoding": {
     "x": {"field": "x", "type": "quantitative", "scale": {"domain": [-0.062, 1.31], "nice": false, "zero": false}, "axis": {"values": [0, 0.25, 0.5, 0.75, 1, 1.25], "labelExpr": "datum.value == 0 ? '0' : datum.value == 0.5 ? '0.5' : datum.value == 1 ? '1' : ''", "title": "σADC (x10⁻³ mm²/s)"}},
     "y": {"field": "y", "type": "quantitative", "scale": {"domain": [0, 1], "nice": false, "zero": false}, "axis": {"values": [0.045, 0.235, 0.425, 0.615, 0.805, 0.995], "labels": false, "title": null}},
     "strokeDash": {"field": "s", "type": "nominal", "scale": {"domain": ["truth", "estimate"], "range": [[1, 0], [4, 2]]}, "legend": null}}}
   ]}
  ], "spacing": 46, "resolve": {"scale": {"strokeDash": "independent"}, "legend": {"strokeDash": "independent"}}}
 ]},
 {"title": "Patient 4", "spacing": 14, "resolve": {"scale": {"strokeDash": "independent"}, "legend": {"strokeDash": "independent"}}, "vconcat": [
  {"hconcat": [
   {"width": 181, "height": 135, "layer": [
    {"data": {"name": "c"}, "transform": [{"filter": "datum.k == '4a'"}], "mark": "line", "encoding": {
     "x": {"field": "x", "type": "quantitative", "scale": {"domain": [-0.062, 1.31], "nice": false, "zero": false}, "axis": {"values": [0, 0.25, 0.5, 0.75, 1, 1.25], "labels": false, "title": null}},
     "y": {"field": "y", "type": "quantitative", "scale": {"domain": [0, 1], "nice": false, "zero": false}, "axis": {"values": [0.045, 0.235, 0.425, 0.615, 0.805, 0.995], "labels": false, "title": null}},
     "strokeDash": {"field": "s", "type": "nominal", "scale": {"domain": ["truth", "estimate"], "range": [[1, 0], [4, 2]]}, "legend": null}}},
    {"data": {"values": [{}]}, "mark": "text", "encoding": {"x": {"datum": 1.25}, "y": {"datum": 0.22}, "text": {"value": "b = 50, 600, 900"}}}
   ]},
   {"width": 181, "height": 135, "layer": [
    {"data": {"name": "c"}, "transform": [{"filter": "datum.k == '4b'"}], "mark": "line", "encoding": {
     "x": {"field": "x", "type": "quantitative", "scale": {"domain": [-0.062, 1.31], "nice": false, "zero": false}, "axis": {"values": [0, 0.25, 0.5, 0.75, 1, 1.25], "labels": false, "title": null}},
     "y": {"field": "y", "type": "quantitative", "scale": {"domain": [0, 1], "nice": false, "zero": false}, "axis": {"values": [0.045, 0.235, 0.425, 0.615, 0.805, 0.995], "labels": false, "title": null}},
     "strokeDash": {"field": "s", "type": "nominal", "scale": {"domain": ["truth", "estimate"], "range": [[1, 0], [4, 2]]}, "legend": {}}}},
    {"data": {"values": [{}]}, "mark": "text", "encoding": {"x": {"datum": 1.195}, "y": {"datum": 0.22}, "text": {"value": "b = 50, 900"}}}
   ]}
  ], "spacing": 46, "resolve": {"scale": {"strokeDash": "independent"}, "legend": {"strokeDash": "independent"}}},
  {"hconcat": [
   {"width": 181, "height": 135, "layer": [
    {"data": {"name": "c"}, "transform": [{"filter": "datum.k == '4c'"}], "mark": "line", "encoding": {
     "x": {"field": "x", "type": "quantitative", "scale": {"domain": [-0.062, 1.31], "nice": false, "zero": false}, "axis": {"values": [0, 0.25, 0.5, 0.75, 1, 1.25], "labelExpr": "datum.value == 0 ? '0' : datum.value == 0.5 ? '0.5' : datum.value == 1 ? '1' : ''", "title": "σADC (x10⁻³ mm²/s)"}},
     "y": {"field": "y", "type": "quantitative", "scale": {"domain": [0, 1], "nice": false, "zero": false}, "axis": {"values": [0.045, 0.235, 0.425, 0.615, 0.805, 0.995], "labels": false, "title": null}},
     "strokeDash": {"field": "s", "type": "nominal", "scale": {"domain": ["truth", "estimate"], "range": [[1, 0], [4, 2]]}, "legend": null}}},
    {"data": {"values": [{}]}, "mark": "text", "encoding": {"x": {"datum": 1.17}, "y": {"datum": 0.67}, "text": {"value": "b = 50, 600"}}}
   ]},
   {"width": 181, "height": 135, "layer": [
    {"data": {"name": "c"}, "transform": [{"filter": "datum.k == '4d'"}], "mark": "line", "encoding": {
     "x": {"field": "x", "type": "quantitative", "scale": {"domain": [-0.062, 1.31], "nice": false, "zero": false}, "axis": {"values": [0, 0.25, 0.5, 0.75, 1, 1.25], "labelExpr": "datum.value == 0 ? '0' : datum.value == 0.5 ? '0.5' : datum.value == 1 ? '1' : ''", "title": "σADC (x10⁻³ mm²/s)"}},
     "y": {"field": "y", "type": "quantitative", "scale": {"domain": [0, 1], "nice": false, "zero": false}, "axis": {"values": [0.045, 0.235, 0.425, 0.615, 0.805, 0.995], "labels": false, "title": null}},
     "strokeDash": {"field": "s", "type": "nominal", "scale": {"domain": ["truth", "estimate"], "range": [[1, 0], [4, 2]]}, "legend": null}}},
    {"data": {"values": [{}]}, "mark": "text", "encoding": {"x": {"datum": 1.25}, "y": {"datum": 0.75}, "text": {"value": "b = 600, 900"}}}
   ]}
  ], "spacing": 46, "resolve": {"scale": {"strokeDash": "independent"}, "legend": {"strokeDash": "independent"}}}
 ]}
], "spacing": 77, "resolve": {"scale": {"strokeDash": "independent"}, "legend": {"strokeDash": "independent"}}}
]
}
